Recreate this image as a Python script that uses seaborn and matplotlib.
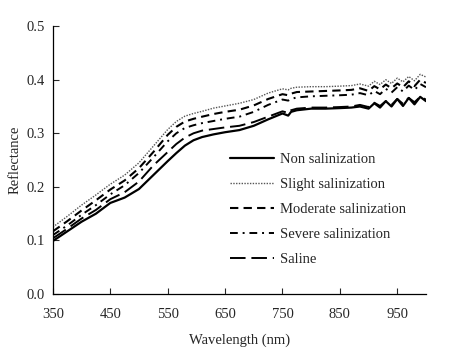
import numpy as np
import pandas as pd
import matplotlib.pyplot as plt
import seaborn as sns

wavelength = [350, 375, 400, 425, 450, 475, 500, 525, 550, 565, 580, 595, 610, 630, 650,
              675, 700, 725, 750, 760, 765, 775, 800, 825, 850, 870, 885, 900, 910, 920,
              930, 940, 950, 960, 970, 980, 990, 1000]

non_salinization = [0.099, 0.117, 0.135, 0.150, 0.170, 0.180, 0.196, 0.222, 0.248, 0.263,
                    0.277, 0.287, 0.293, 0.298, 0.302, 0.306, 0.314, 0.326, 0.337, 0.333,
                    0.340, 0.343, 0.346, 0.346, 0.347, 0.348, 0.350, 0.346, 0.356, 0.348,
                    0.360, 0.350, 0.364, 0.351, 0.366, 0.354, 0.368, 0.360]
slight = [0.125, 0.145, 0.166, 0.185, 0.205, 0.222, 0.245, 0.276, 0.307, 0.322,
          0.332, 0.337, 0.341, 0.347, 0.351, 0.356, 0.363, 0.375, 0.383, 0.381,
          0.384, 0.386, 0.387, 0.387, 0.388, 0.389, 0.392, 0.388, 0.397, 0.391,
          0.400, 0.393, 0.403, 0.396, 0.406, 0.398, 0.410, 0.405]
moderate = [0.117, 0.136, 0.156, 0.175, 0.195, 0.212, 0.235, 0.265, 0.297, 0.312,
            0.322, 0.327, 0.331, 0.336, 0.340, 0.344, 0.352, 0.364, 0.373, 0.371,
            0.374, 0.377, 0.378, 0.379, 0.380, 0.381, 0.384, 0.379, 0.388, 0.382,
            0.391, 0.384, 0.393, 0.386, 0.397, 0.388, 0.400, 0.394]
severe = [0.110, 0.128, 0.148, 0.166, 0.186, 0.203, 0.226, 0.255, 0.285, 0.300,
          0.310, 0.315, 0.319, 0.323, 0.327, 0.331, 0.340, 0.353, 0.363, 0.361,
          0.364, 0.367, 0.369, 0.370, 0.371, 0.372, 0.375, 0.371, 0.379, 0.373,
          0.383, 0.376, 0.386, 0.378, 0.389, 0.381, 0.392, 0.386]
saline = [0.104, 0.122, 0.141, 0.157, 0.177, 0.190, 0.210, 0.240, 0.265, 0.280,
          0.292, 0.300, 0.305, 0.308, 0.311, 0.314, 0.321, 0.331, 0.341, 0.338,
          0.343, 0.346, 0.348, 0.348, 0.349, 0.350, 0.353, 0.349, 0.357, 0.351,
          0.360, 0.353, 0.364, 0.355, 0.366, 0.358, 0.368, 0.363]

labels = ['Non salinization', 'Slight salinization', 'Moderate salinization',
          'Severe salinization', 'Saline']

sns.set_style('ticks')
plt.rcParams['font.family'] = ['Liberation Serif', 'DejaVu Serif']
plt.rcParams['font.size'] = 10.5

fig = plt.figure(figsize=(4.64, 3.53), dpi=100)
ax = fig.add_axes([0.114, 0.167, 0.804, 0.759])

series = [non_salinization, slight, moderate, severe, saline]
styles = [
    dict(linestyle='-', lw=1.6, color='black'),
    dict(linestyle=(0, (1, 1)), lw=1.0, color='#555555'),
    dict(linestyle=(0, (4, 2.5)), lw=1.5, color='black'),
    dict(linestyle=(0, (4, 2.5, 1, 2.5)), lw=1.4, color='black'),
    dict(linestyle=(0, (8, 3)), lw=1.4, color='black'),
]
for vals, lab, st in zip(series, labels, styles):
    sns.lineplot(x=wavelength, y=vals, ax=ax, label=lab, **st)

ax.set_xlim(350, 1000)
ax.set_ylim(0, 0.5)
ax.set_xticks([350, 450, 550, 650, 750, 850, 950])
ax.set_yticks([0.0, 0.1, 0.2, 0.3, 0.4, 0.5])
ax.yaxis.set_major_formatter(plt.FormatStrFormatter('%.1f'))
ax.tick_params(direction='in', length=4, width=0.8, labelsize=10.5)
ax.tick_params(axis='x', pad=10)
ax.tick_params(axis='y', pad=6)
sns.despine(ax=ax)
for s in ['left', 'bottom']:
    ax.spines[s].set_linewidth(0.9)
    ax.spines[s].set_color('black')

ax.set_xlabel('Wavelength (nm)', fontsize=10.5, labelpad=9)
ax.set_ylabel('Reflectance', fontsize=10.5, labelpad=3)

ax.legend(loc='upper left', bbox_to_anchor=(230 / 464, 1 - 153 / 353),
          bbox_transform=fig.transFigure, frameon=False, fontsize=10.5,
          handlelength=3.0, handletextpad=0.4, labelspacing=0.8, borderpad=0,
          borderaxespad=0)

fig.savefig('out.png', dpi=100)
